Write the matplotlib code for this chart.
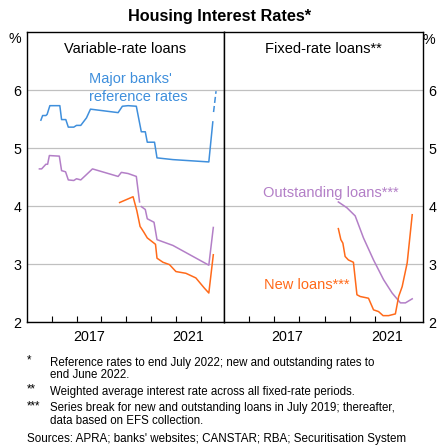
import matplotlib
matplotlib.use('Agg')

import matplotlib.pyplot as plt
from matplotlib.ticker import FixedLocator, NullFormatter

plt.rcParams['font.family'] = ['Liberation Sans', 'DejaVu Sans']

# Variable-rate loans (decimal years, per cent)
ref_x = [2015.57, 2015.64, 2015.77, 2015.82, 2015.93, 2016.33, 2016.40, 2016.57, 2016.67,
         2016.89, 2017.00, 2017.17, 2017.40, 2017.56, 2018.67, 2018.84, 2019.07, 2019.40,
         2019.60, 2019.76, 2019.84, 2020.13, 2020.23, 2020.87, 2022.31, 2022.47]
ref_y = [5.48, 5.56, 5.56, 5.58, 5.73, 5.73, 5.49, 5.49, 5.36,
         5.36, 5.39, 5.39, 5.52, 5.67, 5.61, 5.72, 5.73, 5.72,
         5.28, 5.28, 5.10, 5.10, 4.83, 4.80, 4.76, 5.45]
ref_dash_x = [2022.50, 2022.60]
ref_dash_y = [5.62, 5.98]

var_out_old_x = [2015.51, 2015.60, 2015.77, 2015.84, 2015.91, 2016.31, 2016.40, 2016.56, 2016.67,
                 2016.89, 2017.00, 2017.17, 2017.37, 2017.64, 2018.67, 2018.80, 2019.07, 2019.40,
                 2019.53]
var_out_old_y = [4.64, 4.64, 4.72, 4.72, 4.87, 4.86, 4.61, 4.59, 4.45,
                 4.44, 4.47, 4.45, 4.53, 4.64, 4.51, 4.58, 4.56, 4.51,
                 4.07]
var_out_new_x = [2019.60, 2019.76, 2019.84, 2020.11, 2020.23, 2020.87, 2022.31, 2022.49]
var_out_new_y = [3.99, 3.94, 3.78, 3.72, 3.42, 3.32, 2.98, 3.63]

var_new_old_x = [2018.73, 2019.27, 2019.42, 2019.55]
var_new_old_y = [4.06, 4.16, 3.92, 3.65]
var_new_new_x = [2019.58, 2019.70, 2019.84, 2020.11, 2020.17, 2020.23, 2020.47, 2020.73,
                 2020.99, 2021.39, 2021.79, 2022.12, 2022.31, 2022.49]
var_new_new_y = [3.63, 3.55, 3.45, 3.36, 3.34, 3.10, 3.03, 2.99,
                 2.87, 2.84, 2.76, 2.59, 2.50, 3.16]

# Fixed-rate loans
fix_out_x = [2019.55, 2019.89, 2020.22, 2020.55, 2020.95, 2021.35, 2021.69, 2022.02, 2022.22, 2022.49]
fix_out_y = [4.07, 3.97, 3.83, 3.45, 3.07, 2.73, 2.50, 2.33, 2.33, 2.40]

fix_new_x = [2019.55, 2019.65, 2019.73, 2019.82, 2019.95, 2020.15, 2020.29, 2020.42, 2020.75,
             2020.95, 2021.15, 2021.33, 2021.55, 2021.82, 2021.95, 2022.09, 2022.29, 2022.49]
fix_new_y = [3.61, 3.42, 3.36, 3.13, 3.07, 3.03, 2.47, 2.44, 2.41,
             2.21, 2.18, 2.11, 2.11, 2.14, 2.44, 2.61, 3.02, 3.85]

year_ticks = [2016, 2017, 2018, 2019, 2020, 2021, 2022]
year_label_pos = [2017.5, 2021.5]
year_labels = ['2017', '2021']
y_ticks = [2, 3, 4, 5, 6]

blue = '#3f8fdc'
purple = '#b37fc7'
orange = '#ff6a1a'

fig = plt.figure(figsize=(4.39, 4.47), dpi=100)
ax1 = fig.add_axes([0.0608, 0.2796, 0.4495, 0.6488])
ax2 = fig.add_axes([0.5103, 0.2796, 0.4533, 0.6488])

for ax in (ax1, ax2):
    ax.set_xlim(2015.0, 2022.92)
    ax.set_ylim(2, 7)
    ax.set_yticks(y_ticks)
    ax.yaxis.grid(True, color='#c0c0c0', linewidth=0.9)
    ax.set_axisbelow(True)
    ax.xaxis.set_major_locator(FixedLocator(year_ticks))
    ax.xaxis.set_major_formatter(NullFormatter())
    ax.set_xticks(year_label_pos, labels=year_labels, minor=True)
    ax.tick_params(axis='x', which='major', direction='in', length=4.5, width=0.8, top=False)
    ax.tick_params(axis='x', which='minor', length=0, labelsize=10.3, pad=6)
    ax.tick_params(axis='y', length=0, labelsize=10.3, pad=4)
    for s in ax.spines.values():
        s.set_color('black')
        s.set_linewidth(1.0)

ax2.yaxis.tick_right()

# Variable-rate panel
ax1.plot(ref_x, ref_y, color=blue, lw=1.1)
ax1.plot(ref_dash_x, ref_dash_y, color=blue, lw=1.1, linestyle=(0, (4, 2)))
ax1.plot(var_out_old_x, var_out_old_y, color=purple, lw=1.1)
ax1.plot(var_out_new_x, var_out_new_y, color=purple, lw=1.1)
ax1.plot(var_new_old_x, var_new_old_y, color=orange, lw=1.1)
ax1.plot(var_new_new_x, var_new_new_y, color=orange, lw=1.1)

# Fixed-rate panel
ax2.plot(fix_out_x, fix_out_y, color=purple, lw=1.1)
ax2.plot(fix_new_x, fix_new_y, color=orange, lw=1.1)

ax1.text(0.5, 0.965, 'Variable-rate loans', transform=ax1.transAxes, ha='center', va='top', fontsize=10.5)
ax2.text(0.5, 0.965, 'Fixed-rate loans**', transform=ax2.transAxes, ha='center', va='top', fontsize=10.5)
ax1.text(2017.5, 6.19, "Major banks'", color=blue, fontsize=10.5, ha='left', va='center')
ax1.text(2017.5, 5.88, 'reference rates', color=blue, fontsize=10.5, ha='left', va='center')
ax2.text(2016.55, 4.23, 'Outstanding loans***', color=purple, fontsize=10.5, ha='left', va='center')
ax2.text(2016.59, 2.63, 'New loans***', color=orange, fontsize=10.5, ha='left', va='center')

fig.text(15 / 439, 1 - 39 / 447, '%', fontsize=10.3, ha='center', va='center')
fig.text(429 / 439, 1 - 40 / 447, '%', fontsize=10.3, ha='center', va='center')

fig.text(0.5, 1 - 16 / 447, 'Housing Interest Rates*', fontsize=11.7, fontweight='bold',
         ha='center', va='center')

note_rows = [362.7, 374.5, 391.7, 408.0, 421.0]
note_marks = ['*', '', '**', '***', '']
note_texts = [
    'Reference rates to end July 2022; new and outstanding rates to',
    'end June 2022.',
    'Weighted average interest rate across all fixed-rate periods.',
    'Series break for new and outstanding loans in July 2019; thereafter,',
    'data based on EFS collection.',
]
for ypx, mark, txt in zip(note_rows, note_marks, note_texts):
    fig.text(27 / 439, 1 - (ypx - 2) / 447, mark, fontsize=8.3, ha='left', va='center')
    fig.text(50.5 / 439, 1 - ypx / 447, txt, fontsize=8.3, ha='left', va='center')
fig.text(27 / 439, 1 - 439 / 447, "Sources: APRA; banks' websites; CANSTAR; RBA; Securitisation System",
         fontsize=8.4, ha='left', va='center')

fig.savefig('out.png', dpi=100)
